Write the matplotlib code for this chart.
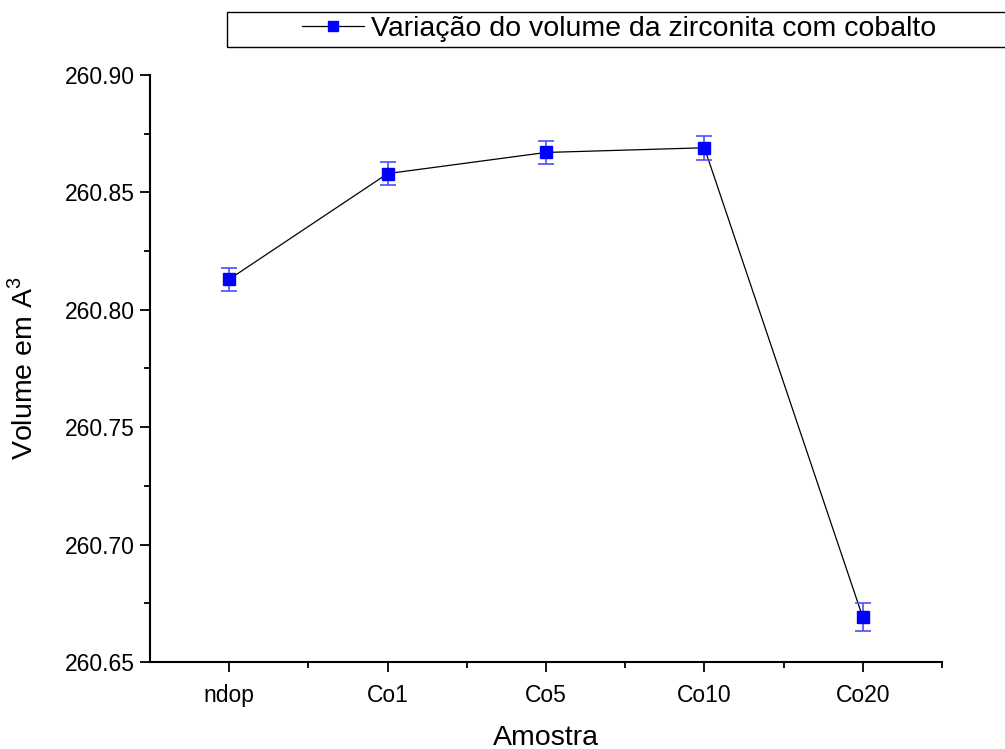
import matplotlib.pyplot as plt
from matplotlib.patches import Rectangle
from matplotlib.ticker import MultipleLocator

# --- DATA ---
samples = ["ndop", "Co1", "Co5", "Co10", "Co20"]
volume = [260.813, 260.858, 260.867, 260.869, 260.669]
volume_err = [0.005, 0.005, 0.005, 0.005, 0.006]

plt.rcParams["font.family"] = ["Liberation Sans", "DejaVu Sans"]
plt.rcParams["mathtext.fontset"] = "custom"
plt.rcParams["mathtext.rm"] = "Liberation Sans"

fig = plt.figure(figsize=(10.05, 7.49), dpi=100)
ax = fig.add_axes([0.1493, 0.1162, 0.7880, 0.7837])

x = list(range(1, len(samples) + 1))

# line joining the samples
ax.plot(x, volume, color="black", linewidth=0.9, zorder=2)
# error bars
ax.errorbar(x, volume, yerr=volume_err, fmt="none", ecolor="#4d4dff",
            elinewidth=1.2, capsize=6, capthick=1.2, zorder=3)
# markers
ax.plot(x, volume, linestyle="none", marker="s", markersize=8,
        color="blue", zorder=4)

# legend handle: line with a square marker in the middle
handle, = ax.plot([], [], color="black", linewidth=0.9, marker="s",
                  markersize=7, markerfacecolor="blue",
                  markeredgecolor="blue")
leg = fig.legend([handle], ["Variação do volume da zirconita com cobalto"],
                 loc="center left", bbox_to_anchor=(0.300, 0.961),
                 fontsize=20.5, frameon=False, borderpad=0,
                 handlelength=2.2, handletextpad=0.25, borderaxespad=0)
# box around the legend, running off the right edge
fig.patches.append(Rectangle((0.2259, 0.9372), 0.80, 0.0467,
                             transform=fig.transFigure, fill=False,
                             edgecolor="black", linewidth=1.0))

ax.set_xlim(0.5, 5.5)
ax.set_ylim(260.65, 260.90)
ax.set_xticks(x)
ax.set_xticklabels(samples)
ax.set_xticks([1.5, 2.5, 3.5, 4.5, 5.5], minor=True)
ax.yaxis.set_major_locator(MultipleLocator(0.05))
ax.yaxis.set_minor_locator(MultipleLocator(0.025))
ax.yaxis.set_major_formatter(plt.FormatStrFormatter("%.2f"))

ax.spines["top"].set_visible(False)
ax.spines["right"].set_visible(False)
ax.spines["left"].set_linewidth(1.5)
ax.spines["bottom"].set_linewidth(1.5)
ax.tick_params(which="major", direction="out", length=7, width=1.3,
               labelsize=16.5)
ax.tick_params(axis="x", which="major", pad=9)
ax.tick_params(axis="y", which="major", pad=4)
ax.tick_params(which="minor", direction="out", length=4, width=1.3)

ax.set_xlabel("Amostra", fontsize=20.5)
ax.set_ylabel("Volume em A$^3$", fontsize=20.5)
ax.xaxis.set_label_coords(0.5, -0.1295)
ax.xaxis.label.set_verticalalignment("center")
ax.yaxis.set_label_coords(-0.160, 0.5)
ax.yaxis.label.set_verticalalignment("center")

fig.savefig("out.png", dpi=100)
